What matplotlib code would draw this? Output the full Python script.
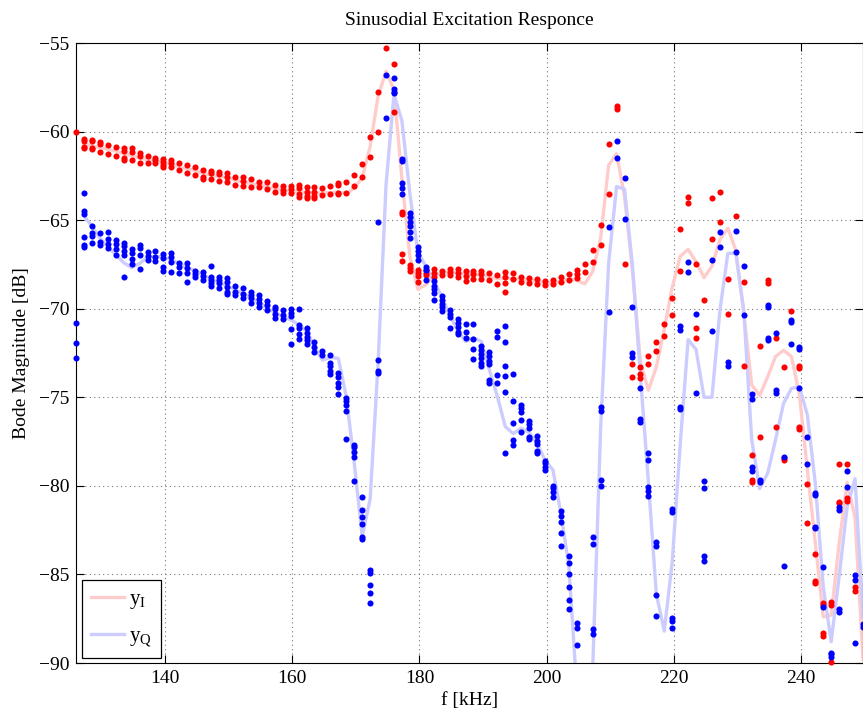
import numpy as np
import matplotlib
matplotlib.use("Agg")
import matplotlib.pyplot as plt
from matplotlib.lines import Line2D

plt.rcParams['font.family'] = ['Liberation Serif', 'DejaVu Serif']
plt.rcParams['axes.unicode_minus'] = True

freq_khz = [126.0, 127.25, 128.5, 129.75, 131.0, 132.25, 133.5, 134.75, 136.0, 137.25,
            138.5, 139.75, 141.0, 142.25, 143.5, 144.75, 146.0, 147.25, 148.5, 149.75,
            151.0, 152.25, 153.5, 154.75, 156.0, 157.25, 158.5, 159.75, 161.0, 162.25,
            163.5, 164.75, 166.0, 167.25, 168.5, 169.75, 171.0, 172.25, 173.5, 174.75,
            176.0, 177.25, 178.5, 179.75, 181.0, 182.25, 183.5, 184.75, 186.0, 187.25,
            188.5, 189.75, 191.0, 192.25, 193.5, 194.75, 196.0, 197.25, 198.5, 199.75,
            201.0, 202.25, 203.5, 204.75, 206.0, 207.25, 208.5, 209.75, 211.0, 212.25,
            213.5, 214.75, 216.0, 217.25, 218.5, 219.75, 221.0, 222.25, 223.5, 224.75,
            226.0, 227.25, 228.5, 229.75, 231.0, 232.25, 233.5, 234.75, 236.0, 237.25,
            238.5, 239.75, 241.0, 242.25, 243.5, 244.75, 246.0, 247.25, 248.5, 249.75]

# measured in-phase magnitudes (several sweeps per frequency)
yI_meas = [
    [-60.04], [-60.42, -60.53, -60.85, -60.94], [-60.45, -60.55, -60.95, -61.0],
    [-60.61, -60.72, -61.13], [-60.76, -61.27], [-60.85, -61.36],
    [-60.95, -61.10, -61.47, -61.60], [-60.95, -61.13, -61.60], [-61.23, -61.38, -61.76],
    [-61.38, -61.76], [-61.47, -61.60, -61.79], [-61.57, -61.70, -61.89, -61.98],
    [-61.60, -61.76, -61.98], [-61.79, -62.17], [-61.89, -62.35], [-61.98, -62.45],
    [-62.17, -62.54, -62.68], [-62.20, -62.35, -62.68], [-62.30, -62.41, -62.77],
    [-62.35, -62.54, -62.82], [-62.54, -63.01], [-62.58, -62.77, -63.07],
    [-62.68, -63.15], [-62.82, -63.15], [-62.86, -63.26], [-63.01, -63.43],
    [-63.05, -63.30, -63.48], [-63.05, -63.26, -63.48], [-63.01, -63.20, -63.54, -63.67],
    [-63.11, -63.39, -63.62, -63.73], [-63.15, -63.43, -63.62, -63.77], [-63.20, -63.58],
    [-63.09, -63.54], [-62.88, -63.01, -63.48, -63.54], [-62.83, -63.48], [-62.45, -63.05],
    [-61.83, -62.55], [-60.32, -61.45], [-57.75, -60.01], [-55.30], [-56.19, -58.91],
    [-64.52, -64.65, -66.91, -67.29], [-67.53, -67.72, -67.87], [-67.81, -67.96, -68.15, -68.47],
    [-67.81, -67.96, -68.10], [-67.78, -68.00, -68.19], [-67.85, -68.10],
    [-67.78, -67.91, -68.10], [-67.78, -67.97, -68.19], [-67.85, -68.15, -68.42],
    [-67.85, -68.06, -68.34], [-67.85, -68.04, -68.34], [-68.00, -68.38], [-68.10, -68.61],
    [-67.91, -68.19, -68.57, -69.04], [-68.00, -68.34], [-68.19, -68.47], [-68.28, -68.53],
    [-68.34, -68.61], [-68.42, -68.66], [-68.38, -68.62], [-68.19, -68.47], [-68.03, -68.36],
    [-67.83, -68.03, -68.25], [-67.45, -67.91], [-66.67, -67.35], [-65.30, -66.38],
    [-60.68, -63.55], [-58.53, -58.73], [-67.49], [-73.10, -73.85], [-73.30, -73.70, -73.90],
    [-72.69, -73.14], [-71.87, -72.38], [-70.84, -71.52], [-69.37, -70.38], [-65.51, -67.87],
    [-63.72, -64.01], [-67.49, -71.09, -71.66], [-69.51], [-63.75, -66.07], [-63.39, -65.12],
    [-68.34, -70.31], [-64.77], [-68.47, -73.23], [-78.26, -79.67, -79.76], [-72.10, -77.26],
    [-68.38, -68.57], [-71.67, -76.66], [-73.30, -78.45, -78.54], [-70.11],
    [-73.26, -73.36, -76.66, -76.81], [-79.92, -82.08], [-83.87, -85.37, -85.47],
    [-86.63, -86.73, -88.29, -88.48], [-86.54, -86.73, -89.92], [-78.77, -80.89, -80.99],
    [-78.79, -80.71, -80.84], [-85.73, -85.91], [],
]

# measured quadrature magnitudes
yQ_meas = [
    [-70.83, -71.92, -72.80], [-63.45, -64.48, -64.65, -65.97, -66.40, -66.53],
    [-65.32, -65.73, -65.88, -66.31], [-65.75, -66.22, -66.41], [-65.65, -66.08, -66.35, -66.59],
    [-66.12, -66.35, -66.65, -66.97], [-66.27, -66.46, -66.72, -66.97, -68.23],
    [-66.65, -66.88, -67.21, -67.48], [-66.40, -66.59, -66.97, -67.78], [-66.78, -67.03, -67.25],
    [-66.74, -67.09, -67.29], [-66.91, -67.16, -67.63, -67.86], [-66.83, -67.06, -67.34, -67.91],
    [-67.40, -67.63, -67.96], [-67.44, -67.72, -68.00, -68.47], [-67.85, -68.04, -68.19],
    [-67.91, -68.15, -68.38], [-67.57, -68.19, -68.38, -68.57, -68.72],
    [-68.19, -68.38, -68.57, -68.85], [-68.28, -68.47, -68.75, -69.04, -69.17],
    [-68.72, -69.04, -69.23], [-68.85, -69.17, -69.41], [-69.04, -69.23, -69.41, -69.66],
    [-69.23, -69.47, -69.69, -69.89], [-69.55, -69.79, -70.07], [-69.89, -70.03, -70.30, -70.54],
    [-70.07, -70.36, -70.60], [-70.03, -70.22, -70.41, -71.16, -71.99],
    [-70.02, -70.92, -71.11, -71.43, -71.73], [-71.11, -71.35, -71.58, -71.77, -71.99],
    [-71.86, -72.14, -72.42], [-72.37, -72.61], [-72.64, -73.08, -73.25, -73.50, -73.70],
    [-73.61, -73.87, -74.18, -74.43, -74.81], [-75.06, -75.19, -75.44, -75.75, -77.37],
    [-77.69, -77.83, -78.07, -78.35, -79.73], [-80.64, -81.39, -81.77, -82.15, -82.90, -83.01],
    [-84.75, -84.90, -85.60, -86.03, -86.63], [-65.09, -72.90, -73.50, -73.61], [-56.80, -59.25],
    [-56.99, -57.60, -57.75, -57.84], [-61.57, -61.66, -62.88, -63.20, -63.52],
    [-64.62, -64.80, -65.09, -65.31, -65.69, -65.99], [-66.53, -66.74, -66.97, -67.25],
    [-67.63, -67.81, -68.38], [-68.42, -68.72, -68.91, -69.13, -69.51],
    [-69.28, -69.51, -69.73, -69.92, -70.11], [-70.07, -70.30, -70.48, -71.11],
    [-70.60, -70.82, -71.05, -71.30, -71.43], [-70.86, -71.30, -71.67],
    [-70.86, -71.73, -72.29, -72.84], [-72.10, -72.33, -72.56, -72.80, -73.05, -73.24],
    [-72.42, -72.67, -72.93, -73.12, -74.02, -74.21], [-71.24, -71.58, -73.74, -74.21],
    [-70.98, -71.86, -73.24, -73.80, -74.69, -78.13], [-73.69, -75.19, -76.43, -77.41, -77.69],
    [-75.44, -75.62, -75.81, -76.28, -76.94], [-76.32, -76.51, -76.75, -77.22, -77.37],
    [-77.19, -77.45, -77.64, -78.02, -78.13], [-78.58, -78.73, -78.92, -79.10],
    [-80.01, -80.14, -80.33, -80.61], [-81.40, -81.70, -82.02, -82.68, -83.40],
    [-83.97, -84.34, -84.99, -85.71, -86.45, -86.97], [-87.77, -88.04, -88.97], [],
    [-82.86, -83.26, -88.07, -88.35], [-75.57, -75.77, -79.67, -79.98], [-65.40, -70.16],
    [-60.54, -61.50], [-62.63, -64.95], [-69.90, -72.48, -72.73], [-74.50, -76.20, -76.40],
    [-78.13, -78.54, -80.08, -80.30, -80.55], [-83.16, -83.37, -86.18, -87.32], [],
    [-81.31, -81.45, -87.47, -87.61, -88.02], [-70.95, -71.20, -75.57, -75.66],
    [-67.35, -67.91], [-70.32, -74.74], [-79.73, -80.14, -83.98, -84.25], [-67.25, -71.25],
    [-65.65, -66.52], [-72.99, -73.23], [-65.61, -66.78], [-67.57, -70.35],
    [-74.84, -75.09, -78.92, -79.14], [-79.67, -79.76], [-69.79, -69.89, -71.67, -71.77],
    [-71.35, -74.59, -74.74], [-78.35, -84.53], [-70.64, -70.73, -71.99],
    [-72.18, -72.29, -74.46], [-77.26, -78.79], [-80.42, -80.52, -82.34, -82.40],
    [-84.56, -86.86], [-89.41, -89.49, -89.64], [-81.18, -81.37, -86.97, -87.10],
    [-79.14, -80.04], [-85.03, -85.32, -88.85], [-87.80, -87.95],
]

# fitted model responses
yI_fit = [np.nan, -60.7, -60.8, -60.9, -61.0, -61.1, -61.25, -61.35, -61.5, -61.6,
          -61.65, -61.75, -61.85, -62.0, -62.1, -62.2, -62.35, -62.45, -62.55, -62.6,
          -62.75, -62.85, -62.95, -63.0, -63.1, -63.2, -63.3, -63.35, -63.4, -63.45,
          -63.5, -63.45, -63.45, -63.4, -63.5, -63.2, -62.6, -60.85, -58.0, -56.6,
          -57.65, -62.7, -67.05, -68.9, -68.65, -68.1, -68.0, -67.95, -67.95, -68.05,
          -68.05, -68.1, -68.2, -68.3, -68.3, -68.3, -68.35, -68.4, -68.45, -68.55,
          -68.55, -68.45, -68.3, -68.4, -68.6, -67.9, -66.0, -61.9, -61.25, -63.65,
          -67.85, -73.0, -74.6, -73.3, -71.15, -68.8, -67.05, -66.65, -67.35, -68.25,
          -67.6, -66.1, -65.45, -66.7, -70.25, -74.3, -74.9, -73.85, -72.7, -72.35,
          -72.7, -74.85, -79.1, -83.2, -87.4, -87.3, -83.25, -79.8, -81.8, -89.8]

yQ_fit = [np.nan, -64.75, -65.35, -66.0, -66.5, -66.95, -67.4, -67.68, -67.45, -67.08,
          -67.05, -67.08, -67.25, -67.45, -67.7, -67.85, -68.1, -68.35, -68.5, -68.72,
          -68.92, -69.15, -69.4, -69.65, -69.95, -70.2, -70.45, -70.62, -70.9, -71.25,
          -72.14, -72.9, -72.75, -72.8, -74.96, -78.7, -82.85, -80.75, -73.1, -63.0,
          -57.9, -59.4, -63.5, -66.8, -67.6, -68.4, -69.3, -70.35, -71.2, -71.85,
          -71.65, -71.85, -73.45, -74.95, -76.65, -77.05, -76.75, -77.0, -77.6, -78.55,
          -79.1, -81.55, -84.55, -91.5, -93.0, -90.3, -76.7, -67.45, -63.1, -63.25,
          -67.55, -73.8, -79.75, -86.1, -88.2, -84.3, -77.7, -71.75, -72.3, -75.0,
          -75.0, -70.1, -66.87, -66.87, -70.1, -77.4, -80.15, -79.3, -77.4, -75.35,
          -74.5, -74.4, -76.0, -79.85, -85.7, -88.8, -85.1, -81.2, -79.6, -87.4]

fig = plt.figure(figsize=(8.63, 7.11), dpi=100)
ax = fig.add_axes([76 / 863, 1 - 663 / 711, 787 / 863, 620 / 711])

ax.plot(freq_khz, yI_fit, color=(1.0, 0.80, 0.80), lw=2.4, zorder=2)
ax.plot(freq_khz, yQ_fit, color=(0.80, 0.80, 1.0), lw=2.4, zorder=2)

xi = [f for f, vals in zip(freq_khz, yI_meas) for _ in vals]
vi = [v for vals in yI_meas for v in vals]
xq = [f for f, vals in zip(freq_khz, yQ_meas) for _ in vals]
vq = [v for vals in yQ_meas for v in vals]
ax.plot(xi, vi, 'o', color=(1, 0, 0), ms=4.4, mew=0, zorder=3, clip_on=False)
ax.plot(xq, vq, 'o', color=(0, 0, 1), ms=4.4, mew=0, zorder=4, clip_on=False)

ax.set_xlim(126, 249.75)
ax.set_ylim(-90, -55)
ax.set_xticks([140, 160, 180, 200, 220, 240])
ax.set_yticks([-90, -85, -80, -75, -70, -65, -60, -55])
ax.tick_params(direction='in', length=6, width=0.8, top=True, right=True,
               labelsize=14, pad=5, colors='black')
ax.grid(True, color='#777777', linestyle=(0, (1, 3)), linewidth=0.8)
for s in ax.spines.values():
    s.set_linewidth(0.8)

ax.set_title('Sinusodial Excitation Responce', fontsize=14, pad=13)
ax.set_xlabel('f [kHz]', fontsize=14, labelpad=4)
ax.set_ylabel('Bode Magnitude [dB]', fontsize=14, labelpad=6)

handles = [Line2D([], [], color=(1.0, 0.80, 0.80), lw=2.4),
           Line2D([], [], color=(0.80, 0.80, 1.0), lw=2.4)]
leg = ax.legend(handles, [r'$\mathregular{y_{I}}$', r'$\mathregular{y_{Q}}$'],
                loc='lower left', bbox_to_anchor=(6 / 787, 5 / 620), borderaxespad=0,
                fontsize=15, handlelength=1.55, handletextpad=0.25, labelspacing=0.75,
                borderpad=0.45, fancybox=False, framealpha=1, edgecolor='black')
leg.get_frame().set_linewidth(0.9)

fig.savefig('out.png', dpi=100)
